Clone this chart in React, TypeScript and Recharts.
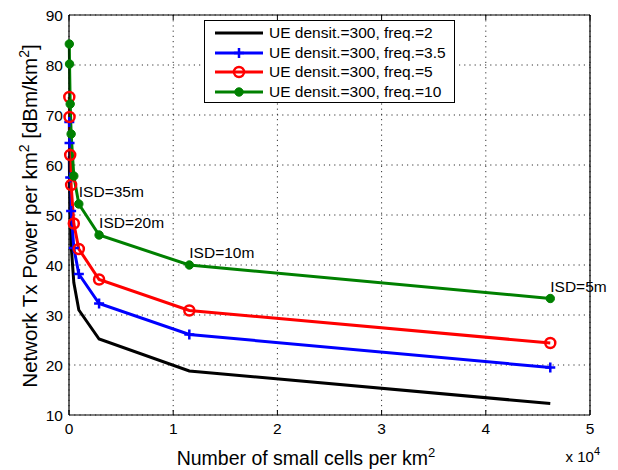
import React from "react";
import {
  LineChart,
  Line,
  XAxis,
  YAxis,
  CartesianGrid,
  Label,
  LabelList,
} from "recharts";

// small cells per km2 for ISD = 200, 150, 100, 75, 50, 35, 20, 10, 5 m
const density = [29, 51, 115, 205, 462, 943, 2887, 11547, 46188];
const freq2 = [61.8, 57.5, 50.5, 44.0, 36.5, 31.0, 25.2, 18.8, 12.3];
const freq35 = [68.6, 64.4, 57.5, 50.8, 43.4, 38.2, 32.3, 26.1, 19.5];
const freq5 = [73.6, 69.6, 62.0, 56.0, 48.3, 43.2, 37.1, 30.9, 24.4];
const freq10 = [84.2, 80.2, 72.2, 66.2, 57.8, 52.2, 46.0, 40.0, 33.3];
const isdLabels = ["", "", "", "", "", "ISD=35m", "ISD=20m", "ISD=10m", "ISD=5m"];

const xTicks = [0, 10000, 20000, 30000, 40000, 50000];
const yTicks = [10, 20, 30, 40, 50, 60, 70, 80, 90];

const FONT = "'Liberation Sans', Arial, Helvetica, sans-serif";

const data = density.map((x, i) => ({
  x,
  f2: freq2[i],
  f35: freq35[i],
  f5: freq5[i],
  f10: freq10[i],
  isd: isdLabels[i],
}));

const series = [
  { key: "f2", name: "UE densit.=300, freq.=2", color: "#000000", marker: "none" },
  { key: "f35", name: "UE densit.=300, freq.=3.5", color: "#0000ff", marker: "plus" },
  { key: "f5", name: "UE densit.=300, freq.=5", color: "#ff0000", marker: "circle" },
  { key: "f10", name: "UE densit.=300, freq.=10", color: "#008000", marker: "dot" },
];

const drawMarker = (marker: string, color: string, cx: number, cy: number, key?: any) => {
  if (marker === "plus")
    return (
      <path
        key={key}
        d={`M${cx - 5},${cy}H${cx + 5}M${cx},${cy - 5}V${cy + 5}`}
        stroke={color}
        strokeWidth={2.5}
        fill="none"
      />
    );
  if (marker === "circle")
    return <circle key={key} cx={cx} cy={cy} r={5} fill="none" stroke={color} strokeWidth={2.5} />;
  if (marker === "dot")
    return <circle key={key} cx={cx} cy={cy} r={4.2} fill={color} stroke={color} strokeWidth={1} />;
  return <g key={key} />;
};

const noTick = () => <g />;

const IsdLabel = (props: any) => {
  const { x, y, value } = props;
  if (!value) return null;
  return (
    <text x={x} y={y - 7} fontSize={15.5} fontFamily={FONT} fill="#000">
      {value}
    </text>
  );
};

const YTitle = () => (
  <text
    transform="translate(37,216) rotate(-90)"
    textAnchor="middle"
    fontSize={20.5}
    fontFamily={FONT}
    fill="#000"
  >
    Network Tx Power per km
    <tspan dy={-8} fontSize={14}>2</tspan>
    <tspan dy={8}> [dBm/km</tspan>
    <tspan dy={-8} fontSize={14}>2</tspan>
    <tspan dy={8}>]</tspan>
  </text>
);

const XTitle = () => (
  <g>
    <text x={306} y={465} textAnchor="middle" fontSize={19.5} fontFamily={FONT} fill="#000">
      Number of small cells per km
      <tspan dy={-8} fontSize={13}>2</tspan>
    </text>
    <text x={600} y={462} textAnchor="end" fontSize={15} fontFamily={FONT} fill="#000">
      x 10
      <tspan dy={-7} fontSize={11}>4</tspan>
    </text>
  </g>
);

export default function App() {
  return (
    <div
      style={{
        position: "absolute",
        left: 0,
        top: 0,
        width: 618,
        height: 470,
        background: "#fff",
        fontFamily: FONT,
      }}
    >
      <LineChart
        width={618}
        height={470}
        data={data}
        margin={{ top: 15, right: 28, bottom: 0, left: 0 }}
      >
        <CartesianGrid
          stroke="#333"
          strokeDasharray="1.2 4"
          strokeWidth={1}
          verticalValues={xTicks}
          horizontalValues={yTicks}
        />
        <XAxis
          dataKey="x"
          type="number"
          domain={[0, 50000]}
          ticks={xTicks}
          tickFormatter={(v: number) => String(v / 10000)}
          height={55}
          tickSize={0}
          tickMargin={8}
          tick={{ fill: "#000", fontSize: 15.5, fontFamily: FONT }}
          axisLine={{ stroke: "#000", strokeWidth: 1.2 }}
          tickLine={false}
        >
          <Label content={<XTitle />} />
        </XAxis>
        <XAxis
          xAxisId="bottomTicks"
          dataKey="x"
          type="number"
          domain={[0, 50000]}
          ticks={xTicks}
          mirror
          axisLine={false}
          tickSize={5}
          tickLine={{ stroke: "#000" }}
          tick={noTick}
        />
        <XAxis
          xAxisId="top"
          orientation="top"
          dataKey="x"
          type="number"
          domain={[0, 50000]}
          ticks={xTicks}
          mirror
          axisLine={{ stroke: "#000", strokeWidth: 1.2 }}
          tickSize={5}
          tickLine={{ stroke: "#000" }}
          tick={noTick}
        />
        <YAxis
          type="number"
          domain={[10, 90]}
          ticks={yTicks}
          width={69}
          tickSize={0}
          tickMargin={6}
          tick={{ fill: "#000", fontSize: 15.5, fontFamily: FONT }}
          axisLine={{ stroke: "#000", strokeWidth: 1.2 }}
          tickLine={false}
        >
          <Label content={<YTitle />} />
        </YAxis>
        <YAxis
          yAxisId="leftTicks"
          type="number"
          domain={[10, 90]}
          ticks={yTicks}
          mirror
          axisLine={false}
          tickSize={5}
          tickLine={{ stroke: "#000" }}
          tick={noTick}
        />
        <YAxis
          yAxisId="right"
          orientation="right"
          type="number"
          domain={[10, 90]}
          ticks={yTicks}
          mirror
          axisLine={{ stroke: "#000", strokeWidth: 1.2 }}
          tickSize={5}
          tickLine={{ stroke: "#000" }}
          tick={noTick}
        />
        {series.map((s) => (
          <Line
            key={s.key}
            type="linear"
            dataKey={s.key}
            name={s.name}
            stroke={s.color}
            strokeWidth={3}
            isAnimationActive={false}
            dot={(p: any) => drawMarker(s.marker, s.color, p.cx, p.cy, p.key ?? `${s.key}-${p.index}`)}
            activeDot={false}
          >
            {s.key === "f10" && <LabelList dataKey="isd" content={<IsdLabel />} />}
          </Line>
        ))}
      </LineChart>
      <div
        style={{
          position: "absolute",
          left: 204,
          top: 20,
          width: 249,
          height: 81,
          border: "1px solid #000",
          background: "#fff",
          boxSizing: "content-box",
        }}
      >
        {series.map((s, i) => (
          <div
            key={s.key}
            style={{
              position: "absolute",
              left: 0,
              top: 2 + i * 19.7,
              height: 19.7,
              display: "flex",
              alignItems: "center",
              whiteSpace: "nowrap",
            }}
          >
            <svg width={62} height={20} style={{ display: "block" }}>
              <line x1={10} y1={10} x2={58} y2={10} stroke={s.color} strokeWidth={3} />
              {drawMarker(s.marker, s.color, 34, 10)}
            </svg>
            <span style={{ fontSize: 15.5, color: "#000", marginLeft: 2, lineHeight: "20px" }}>
              {s.name}
            </span>
          </div>
        ))}
      </div>
    </div>
  );
}
